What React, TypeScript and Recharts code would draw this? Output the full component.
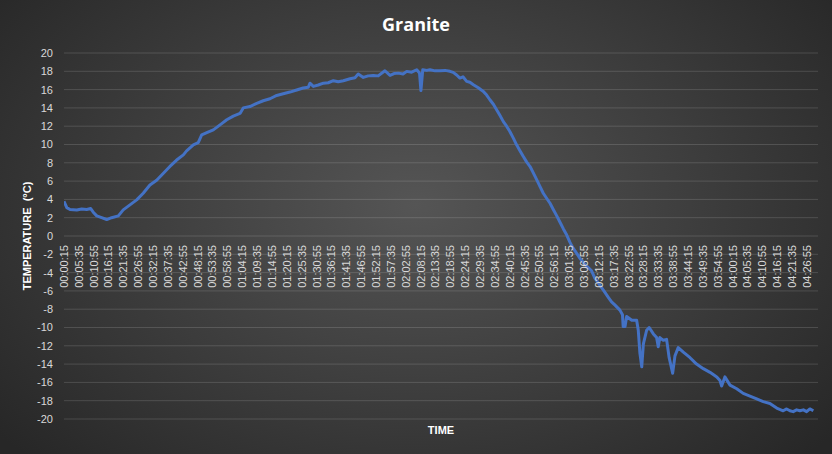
import React from 'react';
import { LineChart, Line, XAxis, YAxis, CartesianGrid } from 'recharts';

// elapsed time in seconds from 00:00:00
const TIME_S = [
  15, 75, 145, 290, 395, 505, 590, 645, 720, 825, 935, 1040, 1185, 1290, 1435, 1580, 1720, 1865, 2010, 2155,
  2295, 2440, 2585, 2655, 2800, 2905, 2980, 3090, 3230, 3375, 3520, 3660, 3805, 3875, 4020, 4165, 4305, 4450, 4595, 4735,
  4880, 5025, 5165, 5275, 5310, 5385, 5490, 5600, 5705, 5815, 5920, 6030, 6175, 6280, 6350, 6460, 6565, 6675, 6780, 6925,
  7035, 7120, 7215, 7315, 7395, 7500, 7610, 7670, 7700, 7740, 7825, 7895, 8005, 8110, 8220, 8325, 8395, 8470, 8540, 8605,
  8685, 8755, 8830, 8935, 9045, 9115, 9185, 9260, 9330, 9400, 9475, 9545, 9615, 9690, 9760, 9835, 9905, 9975, 10050, 10120,
  10195, 10265, 10335, 10410, 10480, 10550, 10625, 10695, 10765, 10840, 10910, 10980, 11055, 11125, 11195, 11270, 11375, 11445, 11555, 11640,
  11735, 11805, 11880, 11985, 12040, 12055, 12095, 12130, 12240, 12345, 12380, 12415, 12455, 12490, 12560, 12615, 12705, 12775, 12810, 12845,
  12920, 12990, 13045, 13120, 13170, 13240, 13350, 13495, 13635, 13780, 13925, 14070, 14140, 14175, 14245, 14355, 14500, 14640, 14785, 14930,
  15070, 15215, 15360, 15500, 15575, 15645, 15715, 15790, 15860, 15935, 16005, 16075, 16150,
];

// temperature in °C
const TEMP_C = [
  3.8, 3.1, 2.9, 2.85, 2.95, 2.9, 3.0, 2.6, 2.2, 2.0, 1.8, 2.0, 2.2, 2.85, 3.4, 3.95, 4.67, 5.58, 6.1, 6.86,
  7.6, 8.3, 8.87, 9.3, 9.96, 10.2, 11.05, 11.3, 11.6, 12.15, 12.7, 13.1, 13.4, 14.0, 14.15, 14.5, 14.78, 15.0, 15.36, 15.55,
  15.73, 15.95, 16.17, 16.25, 16.7, 16.35, 16.5, 16.7, 16.75, 16.97, 16.85, 16.97, 17.19, 17.3, 17.7, 17.33, 17.5, 17.55, 17.5, 18.06,
  17.55, 17.75, 17.8, 17.7, 17.99, 17.9, 18.17, 17.8, 15.9, 18.17, 18.1, 18.17, 18.05, 18.06, 18.1, 18.0, 17.88, 17.6, 17.26, 17.4,
  16.9, 16.8, 16.53, 16.2, 15.8, 15.4, 14.89, 14.4, 13.79, 13.2, 12.5, 12.0, 11.42, 10.7, 9.96, 9.3, 8.68, 8.1, 7.59, 6.9,
  6.13, 5.4, 4.67, 4.1, 3.58, 2.9, 2.2, 1.5, 0.8, 0.1, -0.7, -1.35, -1.9, -2.44, -2.9, -3.3, -3.8, -4.6, -5.4, -6.0,
  -6.7, -7.2, -7.56, -8.1, -8.6, -9.9, -9.9, -8.8, -9.2, -9.2, -10.3, -12.8, -14.3, -11.8, -10.3, -10.0, -10.7, -11.1, -12.1, -11.1,
  -11.4, -11.3, -13.3, -15.0, -13.1, -12.2, -12.7, -13.3, -14.0, -14.5, -14.9, -15.4, -15.8, -16.4, -15.4, -16.3, -16.7, -17.2, -17.5, -17.8,
  -18.1, -18.3, -18.8, -19.1, -18.9, -19.1, -19.2, -19.0, -19.1, -19.0, -19.2, -18.9, -19.1,
];

// category labels every 5:20 from 00:00:15
const X_TICKS = Array.from({ length: 51 }, (_, i) => 15 + i * 320);
const Y_TICKS = [-20, -18, -16, -14, -12, -10, -8, -6, -4, -2, 0, 2, 4, 6, 8, 10, 12, 14, 16, 18, 20];

const data = TIME_S.map((t, i) => ({ t, temp: TEMP_C[i] }));

const W = 832;
const H = 454;
const TOP = 53;
const BOTTOM = 419;
const ZERO_Y = TOP + (BOTTOM - TOP) / 2;

const pad = (n: number) => String(n).padStart(2, '0');
const fmt = (s: number) => `${pad(Math.floor(s / 3600))}:${pad(Math.floor((s % 3600) / 60))}:${pad(s % 60)}`;

const FONT = '"Liberation Sans", Arial, sans-serif';

const TimeTick = (props: any) => {
  const { x, payload } = props;
  return (
    <text
      transform={`translate(${x},${ZERO_Y + 9}) rotate(-90)`}
      textAnchor="end"
      dy="0.35em"
      fill="#d9d9d9"
      fontSize={11}
      fontFamily={FONT}
    >
      {fmt(payload.value)}
    </text>
  );
};

export default function App() {
  return (
    <div
      style={{
        position: 'absolute',
        left: 0,
        top: 0,
        width: W,
        height: H,
        background: 'radial-gradient(ellipse 65% 80% at 50% 45%, #555555 0%, #3c3c3c 55%, #272727 100%)',
        overflow: 'hidden',
      }}
    >
      <div
        style={{
          position: 'absolute',
          top: 12,
          width: W,
          textAlign: 'center',
          color: '#ffffff',
          fontFamily: '"Open Sans", sans-serif',
          fontWeight: 700,
          fontSize: 18,
        }}
      >
        Granite
      </div>
      <LineChart width={W} height={H} data={data} margin={{ top: TOP, right: 14, bottom: 0, left: 0 }}>
        <CartesianGrid horizontal vertical={false} stroke="rgba(255,255,255,0.14)" />
        <XAxis
          dataKey="t"
          type="number"
          domain={[15, 16250]}
          allowDataOverflow
          ticks={X_TICKS}
          interval={0}
          tick={<TimeTick />}
          axisLine={false}
          tickLine={false}
          height={35}
        />
        <YAxis
          type="number"
          domain={[-20, 20]}
          ticks={Y_TICKS}
          interval={0}
          width={64}
          axisLine={false}
          tickLine={false}
          tickMargin={5}
          tick={{ fill: '#d9d9d9', fontSize: 11, fontFamily: FONT }}
        />
        <Line
          type="linear"
          dataKey="temp"
          stroke="#4472C4"
          strokeWidth={3}
          strokeLinejoin="round"
          dot={false}
          isAnimationActive={false}
        />
      </LineChart>
      <svg width={W} height={H} style={{ position: 'absolute', left: 0, top: 0, pointerEvents: 'none' }}>
        <text
          transform={`translate(27,${ZERO_Y}) rotate(-90)`}
          textAnchor="middle"
          dy="0.35em"
          fill="#ffffff"
          fontWeight={700}
          fontSize={11}
          fontFamily={FONT}
        >
          {'TEMPERATURE\u00a0 (°C)'}
        </text>
        <text x={441} y={434} textAnchor="middle" fill="#ffffff" fontWeight={700} fontSize={11} fontFamily={FONT}>
          TIME
        </text>
      </svg>
    </div>
  );
}
